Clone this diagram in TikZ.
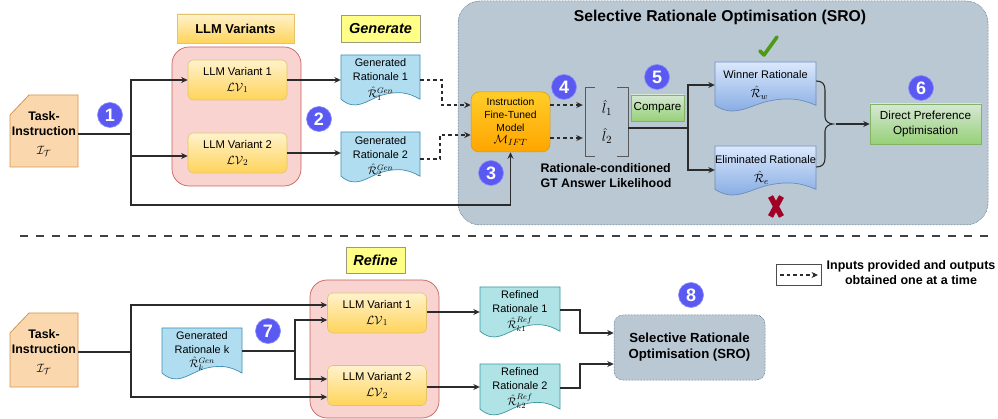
\documentclass[tikz,border=0pt]{standalone}
\usepackage{fontspec}
\setmainfont{Liberation Sans}
\usetikzlibrary{arrows.meta,calc}
\definecolor{lnk}{HTML}{2B2B2B}
\definecolor{pinkf}{HTML}{F8D3D0}\definecolor{pinkd}{HTML}{C8625E}
\definecolor{taskf}{HTML}{FAD7AC}\definecolor{taskd}{HTML}{D9954A}
\definecolor{ylt}{HTML}{FFF2CC}\definecolor{ydk}{HTML}{FFD45A}\definecolor{yd}{HTML}{E3C46A}
\definecolor{genf}{HTML}{FFFF88}\definecolor{gend}{HTML}{9A9A80}
\definecolor{docf}{HTML}{B1DDF0}\definecolor{docd}{HTML}{3F8FB8}
\definecolor{reff}{HTML}{B0E3E6}\definecolor{refd}{HTML}{3A97A0}
\definecolor{srof}{HTML}{BAC8D3}\definecolor{srod}{HTML}{23445D}
\definecolor{bluet}{HTML}{DAE8FC}\definecolor{blueb}{HTML}{7EA6E0}\definecolor{blued}{HTML}{6C8EBF}
\definecolor{grt}{HTML}{D5E8D4}\definecolor{grb}{HTML}{97D077}\definecolor{grd}{HTML}{82B366}
\definecolor{mot}{HTML}{FFCD28}\definecolor{mob}{HTML}{FFA500}\definecolor{mod}{HTML}{D79B00}
\definecolor{badgef}{HTML}{5A5AF2}\definecolor{badged}{HTML}{8C8CFF}
\definecolor{chk}{HTML}{4F9A14}\definecolor{crs}{HTML}{A20025}
\newcommand{\mth}[1]{{\fontsize{12.5}{14}\selectfont$#1$}}
\tikzset{
  x=1pt,y=-1pt,
  txt/.style={inner sep=0,align=center,text=black},
  lnkline/.style={draw=lnk,line width=1.1pt,line join=miter},
  arr/.style={lnkline,-{Stealth[length=6.5pt,width=6pt]}},
  darr/.style={arr,dash pattern=on 3.5pt off 3pt},
  pinkbox/.style={draw=pinkd,fill=pinkf,rounded corners=17pt,line width=.7pt,inner sep=0},
  lvbox/.style={draw=yd,top color=ylt,bottom color=ydk,rounded corners=5pt,line width=.6pt,txt,font=\fontsize{11.2}{13}\selectfont},
  hdr/.style={draw=yd,top color=ylt,bottom color=ydk,line width=.6pt,txt,font=\fontsize{12.9}{15}\selectfont\bfseries},
  stepname/.style={draw=gend,fill=genf,line width=.8pt,txt,font=\fontsize{14.5}{17}\selectfont\bfseries\itshape},
  srobox/.style={draw=srod,fill=srof,densely dotted,line width=.5pt},
  grbox/.style={draw=grd,top color=grt,bottom color=grb,line width=.5pt,txt},
  badge/.style={circle,fill=badgef,draw=badged,line width=.6pt,minimum size=25pt,inner sep=0,text=white,font=\fontsize{18}{18}\selectfont\bfseries},
  btxt/.style={txt,font=\fontsize{12.4}{15.2}\selectfont\bfseries},
  doctxt/.style={txt,font=\fontsize{10.9}{14}\selectfont},
}
% wavy document outline: x1,y1,x2,y2,style
\newcommand{\docshape}[5]{%
  \begin{scope}[shift={(#1,#2)},x=\fpeval{#3-#1}pt,y=\fpeval{#2-#4}pt]
    \path[#5] (0,0) -- (1,0) -- (1,.85) .. controls (.85,.72) and (.72,.68) .. (.5,.78)
      .. controls (.3,.9) and (.18,1.08) .. (0,.85) -- cycle;
  \end{scope}}
% task-instruction card: x1,y1,x2,y2
\newcommand{\cardshape}[4]{%
  \path[fill=taskf,draw=taskd,line width=.8pt] (#1,\fpeval{#2+20}) -- (\fpeval{#1+19},#2) -- (#3,#2) -- (#3,#4) -- (#1,#4) -- cycle;}
\begin{document}
\begin{tikzpicture}
\useasboundingbox (0,0) rectangle (998,419);
\fill[white] (0,0) rectangle (998,419);

% ---------- SRO panel
\node[srobox,rounded corners=22pt,minimum width=530pt,minimum height=224pt,inner sep=0] (sro) at (723,113) {};
\node[txt,font=\fontsize{15.7}{18}\selectfont\bfseries] (srot) at (720,17) {Selective Rationale Optimisation (SRO)};

% ---------- top row
\cardshape{10}{95}{78}{167}
\node[txt,minimum width=68pt,font=\fontsize{12.4}{15.2}\selectfont] (task) at (44,134) {\textbf{Task-}\\\textbf{Instruction}\\[3pt]\mth{\mathcal{I}_{\mathcal{T}}}};

\node[hdr,minimum width=117pt,minimum height=29pt] (hv) at (235.5,28.5) {LLM Variants};
\node[stepname,minimum width=79pt,minimum height=27pt] (hg) at (380.5,28.5) {Generate};

\node[pinkbox,minimum width=129pt,minimum height=139pt] (pk) at (236.5,116.5) {};
\node[lvbox,minimum width=99pt,minimum height=40pt] (lv1) at (237.5,80) {LLM Variant 1\\[3pt]\mth{\mathcal{LV}_1}};
\node[lvbox,minimum width=99pt,minimum height=40pt] (lv2) at (237.5,153) {LLM Variant 2\\[3pt]\mth{\mathcal{LV}_2}};

\docshape{341}{55}{420}{107}{fill=docf,draw=docd,line width=.7pt}
\node[doctxt,minimum width=79pt] (g1) at (380.5,79.5) {Generated\\Rationale 1\\[2.5pt]$\hat{\mathcal{R}}_1^{Gen}$};
\docshape{341}{132}{420}{184}{fill=docf,draw=docd,line width=.7pt}
\node[doctxt,minimum width=79pt] (g2) at (380.5,156.5) {Generated\\Rationale 2\\[2pt]$\hat{\mathcal{R}}_2^{Gen}$};

\node[draw=mod,top color=mot,bottom color=mob,rounded corners=8pt,line width=.5pt,txt,minimum width=79pt,minimum height=60pt,font=\fontsize{10.3}{12.7}\selectfont] (mo) at (510.5,122) {Instruction\\Fine-Tuned\\Model\\\mth{\mathcal{M}_{IFT}}};

\node[inner sep=0,minimum width=42pt,minimum height=68pt,font=\fontsize{15}{17}\selectfont,align=center] (lk) at (607,122) {$\hat{l}_1$\\[11pt]$\hat{l}_2$};
\draw[draw=black!65,line width=.8pt] ([xshift=9pt]lk.north west) -- (lk.north west) -- (lk.south west) -- ([xshift=9pt]lk.south west);
\draw[draw=black!65,line width=.8pt] ([xshift=-11pt]lk.north east) -- (lk.north east) -- (lk.south east) -- ([xshift=-11pt]lk.south east);

\node[grbox,minimum width=53pt,minimum height=26pt,font=\fontsize{11.6}{14}\selectfont] (cmp) at (657.5,108) {Compare};
\node[btxt,align=left] (cap) at (606,175.5) {Rationale-conditioned\\GT Answer Likelihood};

\docshape{715}{62}{816}{113}{top color=bluet,bottom color=blueb,draw=blued,line width=.7pt}
\node[txt,minimum width=101pt,font=\fontsize{11}{14}\selectfont] (wr) at (765.5,85) {Winner Rationale\\[5pt]\hspace*{-12pt}\mth{\hat{\mathcal{R}}_w}};
\docshape{715}{146}{816}{197}{top color=bluet,bottom color=blueb,draw=blued,line width=.7pt}
\node[txt,minimum width=101pt,font=\fontsize{11}{14}\selectfont] (er) at (765.5,170) {Eliminated Rationale\\[5pt]\hspace*{-8pt}\mth{\hat{\mathcal{R}}_e}};

\node[grbox,minimum width=111pt,minimum height=40pt,font=\fontsize{11.7}{15}\selectfont] (dpo) at (925.5,124) {Direct Preference\\Optimisation};

\draw[chk,line width=3.6pt,line cap=round,line join=round] (760,51) -- (764,55) -- (777,37);
\draw[crs,line width=5.5pt] (770.5,196.5) -- (781.5,216.5) (781.5,196.5) -- (770.5,216.5);

\node[badge] (b1) at (110,115) {1};
\node[badge] (b2) at (319,119) {2};
\node[badge] (b3) at (491,173) {3};
\node[badge] (b4) at (564,87) {4};
\node[badge] (b5) at (657,77) {5};
\node[badge] (b6) at (921,88) {6};

% top connectors
\coordinate (j0) at (131,134);
\coordinate (j1) at (688,128);
\coordinate (j2) at (131,205);
\coordinate (bt) at (833,124);
\coordinate (c1) at (442,105);
\coordinate (c2) at (440,135);
\draw[lnkline] (task.east) -- (j0);
\draw[arr] (j0) |- (lv1.west);
\draw[arr] (j0) |- ([yshift=-3pt]lv2.west);
\draw[arr] (j0) -- (j2) -| (mo.south);
\draw[arr] (lv1.east) -- (lv1.east-|g1.west);
\draw[arr] (lv2.east) -- (lv2.east-|g2.west);
\draw[darr] ([yshift=-.5pt]g1.east) -| (c1) -- (c1-|mo.west);
\draw[darr] ([yshift=-2.5pt]g2.east) -| (c2) -- (c2-|mo.west);
\draw[darr] ([yshift=17pt]mo.east) -- ([yshift=17pt,xshift=-3pt]mo.east-|lk.west);
\draw[darr] ([yshift=-16pt]mo.east) -- ([yshift=-16pt,xshift=-3pt]mo.east-|lk.west);
\draw[lnkline] ([yshift=-6pt]lk.east) -- (j1);
\draw[arr] (j1) |- (wr.west);
\draw[arr] (j1) |- (er.west);
\draw[lnkline] ([yshift=4pt]wr.east) .. controls +(6,0) and (825,84) .. (825,90) -- (825,117) .. controls (825,121) and (829,124) .. (bt)
  .. controls (829,124) and (825,127) .. (825,131) -- (825,158) .. controls (825,164) and +(6,0) .. ([yshift=3pt]er.east);
\draw[arr] ([xshift=3pt]bt) -- (dpo.west);

% separator
\coordinate (s1) at (20,236);
\coordinate (s2) at (988,236);
\draw[draw=black!75,line width=2.8pt,dash pattern=on 8pt off 8pt] (s1) -- (s2);

% ---------- bottom row
\cardshape{10}{313}{78}{387}
\node[txt,minimum width=68pt,font=\fontsize{12.4}{15.2}\selectfont] (task2) at (44,352) {\textbf{Task-}\\\textbf{Instruction}\\[3pt]\mth{\mathcal{I}_{\mathcal{T}}}};

\node[stepname,minimum width=59pt,minimum height=26pt] (hr) at (375.5,260) {Refine};
\node[pinkbox,minimum width=129pt,minimum height=138pt] (pk2) at (374.5,349) {};
\node[lvbox,minimum width=99pt,minimum height=40pt] (lw1) at (377,313) {LLM Variant 1\\[3pt]\mth{\mathcal{LV}_1}};
\node[lvbox,minimum width=99pt,minimum height=40pt] (lw2) at (377,385.5) {LLM Variant 2\\[3pt]\mth{\mathcal{LV}_2}};

\docshape{162}{328}{242}{381}{fill=docf,draw=docd,line width=.7pt}
\node[doctxt,minimum width=80pt] (gk) at (202,351) {Generated\\Rationale k\\$\hat{\mathcal{R}}_k^{Gen}$};

\docshape{480}{287}{560}{339}{fill=reff,draw=refd,line width=.7pt}
\node[doctxt,minimum width=80pt] (r1) at (520,311) {Refined\\Rationale 1\\[2pt]$\hat{\mathcal{R}}_{k1}^{Ref}$};
\docshape{480}{364}{560}{417}{fill=reff,draw=refd,line width=.7pt}
\node[doctxt,minimum width=80pt] (r2) at (520,388) {Refined\\Rationale 2\\[2pt]$\hat{\mathcal{R}}_{k2}^{Ref}$};

\node[srobox,rounded corners=9pt,minimum width=151pt,minimum height=65pt,txt,font=\fontsize{13.2}{16}\selectfont\bfseries] (sr2) at (689.5,347.5) {Selective Rationale\\Optimisation (SRO)};

\node[badge] (b7) at (268,331) {7};
\node[badge] (b8) at (691,295) {8};

\coordinate (j3) at (131,352);
\coordinate (j4) at (295,351);
\coordinate (k1) at (580,310);
\coordinate (k2) at (580,388);
\draw[lnkline] (task2.east) -- (j3);
\draw[arr] (j3) |- ([yshift=8pt]lw1.west);
\draw[arr] (j3) |- ([yshift=-11.5pt]lw2.west);
\draw[lnkline] (gk.east) -- (j4);
\draw[arr] (j4) |- ([yshift=-7pt]lw1.west);
\draw[arr] (j4) |- ([yshift=6.5pt]lw2.west);
\draw[arr] ([yshift=1pt]lw1.east) -- ([yshift=1pt]lw1.east-|r1.west);
\draw[arr] ([yshift=-1.5pt]lw2.east) -- ([yshift=-1.5pt]lw2.east-|r2.west);
\draw[arr] ([yshift=1pt]r1.east) -- (k1) |- ([yshift=14.5pt]sr2.west);
\draw[arr] (r2.east) -- (k2) |- ([yshift=-16.5pt]sr2.west);

% legend
\node[draw=black!70,line width=.7pt,minimum width=45pt,minimum height=21pt,inner sep=0] (lg) at (798.5,274.5) {};
\coordinate (lg1) at (780,275);
\coordinate (lg2) at (818,275);
\draw[darr] (lg1) -- (lg2);
\node[btxt,font=\fontsize{12.5}{15}\selectfont\bfseries] (lgt) at (911,272.5) {Inputs provided and outputs\\obtained one at a time};
\end{tikzpicture}
\end{document}
